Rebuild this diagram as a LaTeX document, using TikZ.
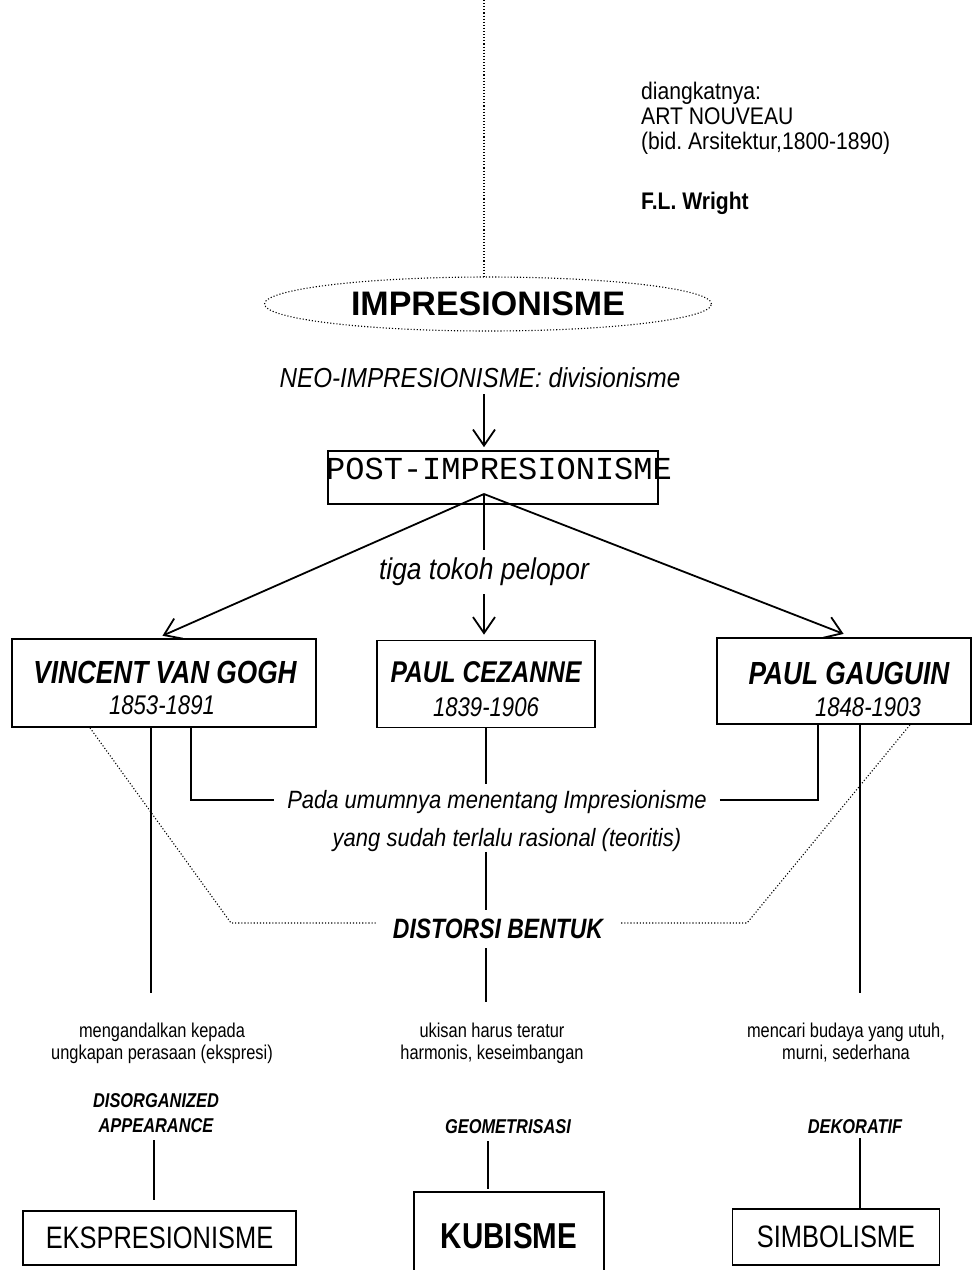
\documentclass[tikz,border=0pt]{standalone}
\usepackage{fontspec}
\setmainfont{Liberation Sans}
\newfontfamily\narrowsans{Liberation Sans}[FakeStretch=0.82]
\newfontfamily\tallsans{Liberation Sans}[FakeStretch=0.88]
\newfontfamily\monosans{Liberation Mono}
\newcommand{\setsize}[2]{\fontsize{#1}{#2}\selectfont}
\usetikzlibrary{arrows.meta,positioning,shapes.geometric}

\begin{document}
\begin{tikzpicture}[x=1pt,y=-1pt,
  every node/.style={inner sep=0pt},
  kotak/.style={draw, line width=1.7pt},
  garis/.style={line width=1.3pt},
  titik/.style={line width=1.1pt, dash pattern=on 1.1pt off 2pt},
  panah/.style={line width=1.8pt, -{Straight Barb[length=16pt,width=22pt]}},
  nama/.style={font=\narrowsans\setsize{32}{36}\bfseries\itshape},
  tahun/.style={font=\narrowsans\setsize{27}{30}\itshape},
  ket/.style={font=\narrowsans\setsize{20}{22}, align=center},
  sifat/.style={font=\narrowsans\setsize{20}{25}\bfseries\itshape, align=center},
  aliran/.style={font=\narrowsans\setsize{31}{34}}]
\useasboundingbox (0,0) rectangle (973,1270);

% atas
\coordinate (atas) at (484,0);
\node[draw, ellipse, titik, minimum width=447pt, minimum height=54pt] (impr) at (488,304) {\setsize{34}{38}\bfseries IMPRESIONISME};
\draw[titik] (atas) -- (atas |- impr.north);

\node[font=\tallsans\setsize{27.5}{30}\itshape] (neo) at (480,378) {NEO-IMPRESIONISME: divisionisme};
\node[kotak, minimum width=330pt, minimum height=53pt] (post) at (493,477.5) {};
\node[anchor=west] (posttext) at (326,469) {\monosans\setsize{32}{36}POST-IMPRESIONISME};
\draw[panah, shorten <=6pt, shorten >=3pt] (neo.south -| 484,0) -- (post.north -| 484,0);

% tiga tokoh
\coordinate (cabang) at (484,494);
\node[kotak, minimum width=304pt, minimum height=88pt] (vvg) at (164,683) {};
\node[nama] (vvgnama) at (165,672) {VINCENT VAN GOGH};
\node[tahun] (vvgtahun) at (162,705) {1853-1891};
\node[kotak, minimum width=218pt, minimum height=87pt] (pc) at (486,684) {};
\node[nama, font=\narrowsans\setsize{30}{33}\bfseries\itshape] (pcnama) at (486,672) {PAUL CEZANNE};
\node[tahun] (pctahun) at (486,707) {1839-1906};
\node[kotak, minimum width=254pt, minimum height=86pt] (pg) at (844,681) {};
\node[nama] (pgnama) at (849,673) {PAUL GAUGUIN};
\node[tahun] (pgtahun) at (868,707) {1848-1903};

\node[font=\tallsans\setsize{30}{33}\itshape, inner sep=8pt] (tiga) at (484,572) {tiga tokoh pelopor};
\draw[garis] (cabang) -- (tiga.north -| cabang);
\draw[panah, shorten >=5pt] (tiga.south -| cabang) -- (pc.north -| cabang);
\draw[panah, shorten >=6pt] (cabang) -- ([xshift=-7pt]vvg.north);
\draw[panah, shorten >=9pt] (cabang) -- ([xshift=8pt]pg.north);

% tengah
\node[font=\tallsans\setsize{25}{28}\itshape, inner xsep=13pt, inner ysep=6pt] (pada1) at (497,802) {Pada umumnya menentang Impresionisme};
\node[font=\tallsans\setsize{25}{28}\itshape] (pada2) at (507,840) {yang sudah terlalu rasional (teoritis)};
\node[font=\narrowsans\setsize{28}{30}\bfseries\itshape, inner xsep=17pt, inner ysep=9pt] (distorsi) at (498,929) {DISTORSI BENTUK};

\coordinate (kiri) at (151,993);
\coordinate (tekukkiri) at (191,800);
\coordinate (tekukkanan) at (818,800);
\coordinate (kanan) at (860,993);
\coordinate (tengah) at (486,1002);
\draw[garis] (vvg.south -| kiri) -- (kiri);
\draw[garis] (vvg.south -| tekukkiri) -- (tekukkiri) -- (pada1.west |- tekukkiri);
\draw[garis] (pada1.east |- tekukkanan) -- (tekukkanan) -- (pg.south -| tekukkanan);
\draw[garis] (pg.south -| kanan) -- (kanan);
\draw[garis] (pc.south) -- (pada1.north -| pc.south);
\draw[garis] (pada2.south -| pc.south) -- (distorsi.north -| pc.south);
\draw[garis] (distorsi.south -| pc.south) -- (tengah);

\coordinate (sudutkiri) at (231,923);
\coordinate (sudutkanan) at (747,923);
\draw[titik] (vvg.south -| 90,0) -- (sudutkiri) -- (distorsi.west |- sudutkiri);
\draw[titik] (pg.south -| 910,0) -- (sudutkanan) -- (distorsi.east |- sudutkanan);

% bawah
\node[ket, anchor=north] (ketkiri) at (162,1023) {mengandalkan kepada\\ungkapan perasaan (ekspresi)};
\node[ket, anchor=north] (kettengah) at (492,1023) {ukisan harus teratur\\harmonis, keseimbangan};
\node[ket, anchor=north] (ketkanan) at (846,1023) {mencari budaya yang utuh,\\murni, sederhana};

\node[sifat] (disorg) at (156,1113.5) {DISORGANIZED\\APPEARANCE};
\node[sifat] (geom) at (508,1127) {GEOMETRISASI};
\node[sifat] (dekor) at (855,1127) {DEKORATIF};

\node[kotak, aliran, minimum width=273pt, minimum height=54pt] (ekspresi) at (159.5,1238) {EKSPRESIONISME};
\node[kotak, minimum width=190pt, minimum height=88pt, font=\narrowsans\setsize{36}{40}\bfseries] (kubisme) at (509,1236) {KUBISME};
\node[kotak, aliran, minimum width=207pt, minimum height=56pt] (simbol) at (836,1237) {SIMBOLISME};

\draw[garis, shorten <=7pt, shorten >=10pt] (disorg.south -| 154,0) -- (ekspresi.north -| 154,0);
\draw[garis, shorten <=7pt, shorten >=2pt] (geom.south -| 488,0) -- (kubisme.north -| 488,0);
\draw[garis, shorten <=4pt] (dekor.south -| 860,0) -- (simbol.north -| 860,0);

% kanan atas
\node[anchor=north west, align=left, font=\tallsans\setsize{24}{25}] (diangkat) at (641,82) {diangkatnya:\\ART NOUVEAU\\(bid.\ Arsitektur,1800-1890)};
\node[anchor=base west, font=\tallsans\setsize{24}{25}\bfseries] (wright) at (641,209) {F.L.\ Wright};
\end{tikzpicture}
\end{document}
